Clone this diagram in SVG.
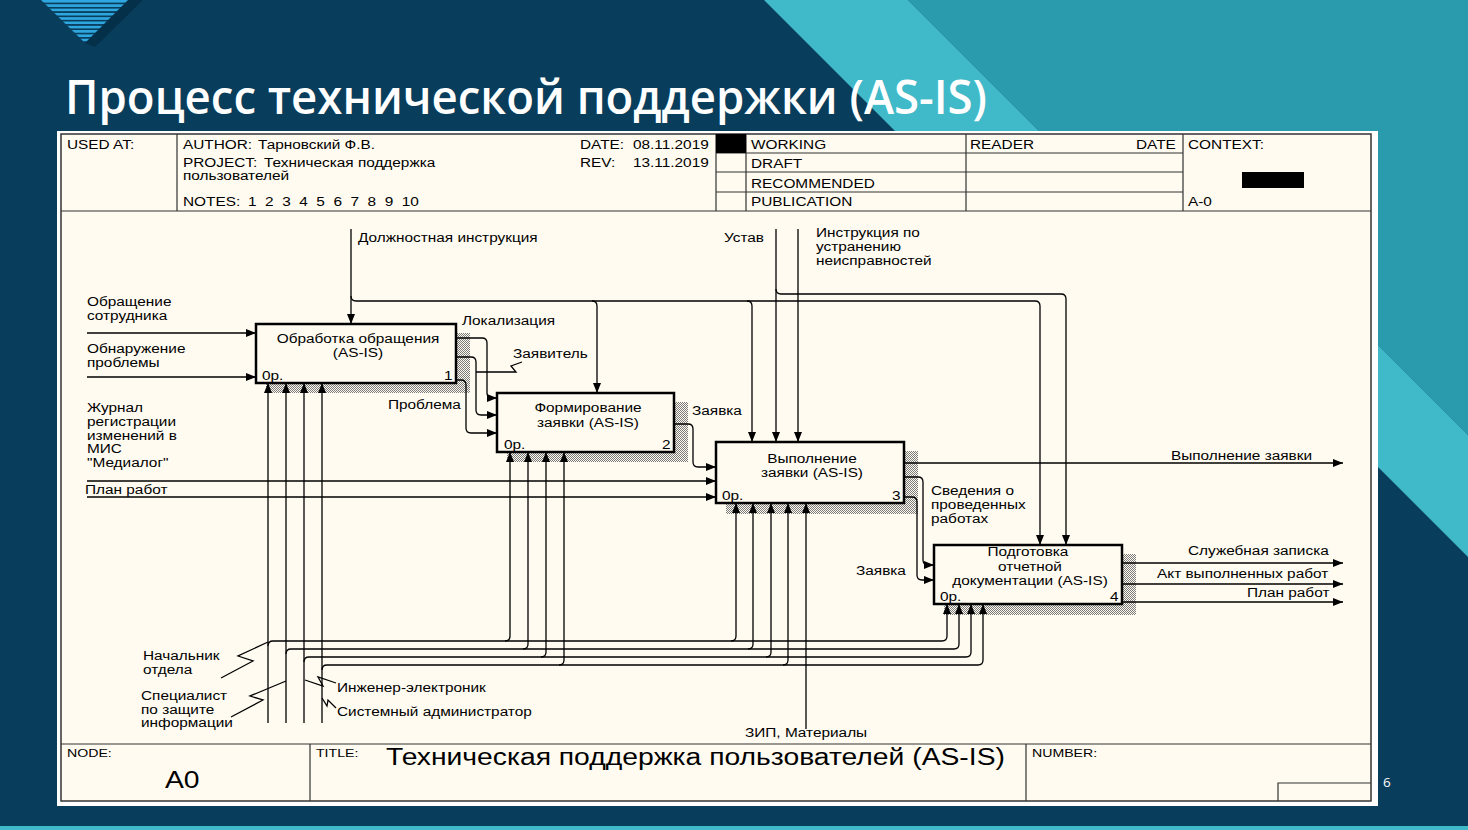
<svg xmlns="http://www.w3.org/2000/svg" width="1468" height="830" viewBox="0 0 1468 830">
  <style>
    .t { font-family: "Liberation Sans", Arial, sans-serif; font-size: 12.5px; fill: #000;
         transform-box: fill-box; transform-origin: left center; transform: scaleX(1.23); }
    .tm { text-anchor: middle; transform-origin: center center; }
    .sm { font-size: 11.5px; }
    .big { font-size: 23px; }
    .ln { fill: none; stroke: #000; stroke-width: 1.3; }
    .ar { marker-end: url(#ah); }
    .fr { fill: none; stroke: #333; stroke-width: 1.2; }
    .box { fill: #fffbf0; stroke: #000; stroke-width: 2.5; }
    .shd { fill: url(#hatch); }
  </style>
  <defs>
    <pattern id="stripes" width="8" height="4.3" patternUnits="userSpaceOnUse">
      <rect width="8" height="2.6" fill="#2ea6e0"/>
    </pattern>
    <pattern id="hatch" width="2" height="2" patternUnits="userSpaceOnUse">
      <rect width="2" height="2" fill="#fffbf0"/>
      <rect x="0" y="0" width="1" height="1" fill="#7a7a7a"/>
      <rect x="1" y="1" width="1" height="1" fill="#7a7a7a"/>
    </pattern>
    <marker id="ah" viewBox="0 0 10 8" refX="10" refY="4" markerWidth="10" markerHeight="8" markerUnits="userSpaceOnUse" orient="auto">
      <path d="M0,0 L10,4 L0,8 z" fill="#000"/>
    </marker>
  </defs>

  <!-- slide background -->
  <rect width="1468" height="830" fill="#083d5b"/>
  <polygon points="908,0 1468,0 1468,435 1378,345 1378,135 1043,135" fill="#2a9bac"/>
  <polygon points="764,0 908,0 1043,135 899,135" fill="#40b9c9"/>
  <polygon points="1378,345 1468,435 1468,557 1378,467" fill="#40b9c9"/>
  <rect x="0" y="826" width="1468" height="4" fill="#40b9c9"/>
  <polygon points="128,0 143,0 95,47 85,43" fill="#05304a"/>
  <polygon points="41,0 128,0 85,43" fill="url(#stripes)"/>

  <text x="65" y="114" font-family="'Open Sans', 'Liberation Sans', sans-serif" font-weight="600" font-size="47" fill="#fff" textLength="922" lengthAdjust="spacingAndGlyphs">Процесс технической поддержки (AS-IS)</text>
  <text x="1383" y="787" font-family="'Open Sans', 'Liberation Sans', sans-serif" font-size="13.5" fill="#fff">6</text>

  <!-- drawing sheet -->
  <g id="sheet">
    <rect x="57" y="131" width="1321" height="675" fill="#fff"/>
    <rect x="61" y="134" width="1310" height="667" fill="#fffbf0" stroke="#333" stroke-width="1.5"/>
    <path class="fr" d="M61,211 H1371 M61,744 H1371 M177,134 V211 M716,134 V211 M746,134 V211 M966,134 V211 M1183,134 V211 M716,153 H1183 M716,172 H1183 M716,192 H1183 M310,744 V801 M1026,744 V801 M1278,801 V783 H1371"/>
    <rect x="716" y="134" width="30" height="19" fill="#000"/>
    <rect x="1242" y="172" width="62" height="16" fill="#000"/>
  </g>

  <g id="header">
    <text class="t" x="67" y="149">USED AT:</text>
    <text class="t" x="183" y="149">AUTHOR:</text>
    <text class="t" x="258" y="149">Тарновский Ф.В.</text>
    <text class="t" x="183" y="167">PROJECT:</text>
    <text class="t" x="264" y="167">Техническая поддержка</text>
    <text class="t" x="183" y="180">пользователей</text>
    <text class="t" x="183" y="206">NOTES:</text>
    <text class="t" x="248" y="206" style="white-space:pre">1  2  3  4  5  6  7  8  9  10</text>
    <text class="t" x="580" y="149">DATE:</text>
    <text class="t" x="633" y="149">08.11.2019</text>
    <text class="t" x="580" y="167">REV:</text>
    <text class="t" x="633" y="167">13.11.2019</text>
    <text class="t" x="751" y="149">WORKING</text>
    <text class="t" x="751" y="168">DRAFT</text>
    <text class="t" x="751" y="188">RECOMMENDED</text>
    <text class="t" x="751" y="206">PUBLICATION</text>
    <text class="t" x="970" y="149">READER</text>
    <text class="t" x="1136" y="149">DATE</text>
    <text class="t" x="1188" y="149">CONTEXT:</text>
    <text class="t" x="1188" y="206">A-0</text>
  </g>

  <g id="footer">
    <text class="t sm" x="67" y="757">NODE:</text>
    <text class="t big" x="165" y="788">A0</text>
    <text class="t sm" x="316" y="757">TITLE:</text>
    <text class="t big" x="386" y="765">Техническая поддержка пользователей (AS-IS)</text>
    <text class="t sm" x="1032" y="757">NUMBER:</text>
  </g>

  <!-- activity boxes (drawn below the arrows that end on them) -->
  <g id="box1">
    <rect class="shd" x="266" y="333" width="204" height="60"/>
    <rect class="box" x="256" y="324" width="200" height="59"/>
    <text class="t tm" x="358" y="343">Обработка обращения</text>
    <text class="t tm" x="358" y="357">(AS-IS)</text>
    <text class="t" x="262" y="380">0р.</text>
    <text class="t" x="444" y="380">1</text>
  </g>
  <g id="box2">
    <rect class="shd" x="507" y="402" width="181" height="60"/>
    <rect class="box" x="497" y="393" width="177" height="59"/>
    <text class="t tm" x="588" y="412">Формирование</text>
    <text class="t tm" x="588" y="427">заявки (AS-IS)</text>
    <text class="t" x="504" y="449">0р.</text>
    <text class="t" x="662" y="449">2</text>
  </g>
  <g id="box3">
    <rect class="shd" x="726" y="451" width="192" height="63"/>
    <rect class="box" x="716" y="442" width="188" height="61"/>
    <text class="t tm" x="812" y="463">Выполнение</text>
    <text class="t tm" x="812" y="477">заявки (AS-IS)</text>
    <text class="t" x="722" y="500">0р.</text>
    <text class="t" x="892" y="500">3</text>
  </g>
  <g id="box4">
    <rect class="shd" x="944" y="554" width="192" height="61"/>
    <rect class="box" x="934" y="545" width="188" height="59"/>
    <text class="t tm" x="1028" y="556">Подготовка</text>
    <text class="t tm" x="1030" y="571">отчетной</text>
    <text class="t tm" x="1030" y="585">документации (AS-IS)</text>
    <text class="t" x="940" y="601">0р.</text>
    <text class="t" x="1110" y="601">4</text>
  </g>

  <!-- connectors -->
  <g id="connectors">
    <!-- controls -->
    <path class="ln ar" d="M351,229 V324"/>
    <path class="ln ar" d="M351,296 Q351,301 356,301 H1035 Q1040,301 1040,306 V545"/>
    <path class="ln ar" d="M592,301 Q597,301 597,306 V393"/>
    <path class="ln ar" d="M747,301 Q752,301 752,306 V442"/>
    <path class="ln ar" d="M776,229 V442"/>
    <path class="ln ar" d="M776,289 Q776,294 781,294 H1061 Q1066,294 1066,299 V545"/>
    <path class="ln ar" d="M798,229 V442"/>
    <!-- inputs -->
    <path class="ln ar" d="M87,333 H256"/>
    <path class="ln ar" d="M87,377 H256"/>
    <path class="ln ar" d="M87,481 H716"/>
    <path class="ln ar" d="M87,497 H716"/>
    <!-- box 1 -> box 2 -->
    <path class="ln ar" d="M456,338 H482 Q487,338 487,343 V393 Q487,398 492,398 H497"/>
    <path class="ln ar" d="M456,357 H471 Q476,357 476,362 V410 Q476,415 481,415 H497"/>
    <path class="ln ar" d="M456,380 H461 Q466,380 466,385 V428 Q466,433 471,433 H497"/>
    <path class="ln" d="M476,372 H516 L511,366 L522,362"/>
    <!-- box 2 -> box 3 -->
    <path class="ln ar" d="M674,424 H688 Q693,424 693,429 V462 Q693,467 698,467 H716"/>
    <!-- box 3 outputs -->
    <path class="ln ar" d="M904,463 H1343"/>
    <path class="ln ar" d="M904,477 H918 Q923,477 923,482 V560 Q923,565 928,565 H934"/>
    <path class="ln ar" d="M904,497 H912 Q917,497 917,502 V575 Q917,580 922,580 H934"/>
    <!-- box 4 outputs -->
    <path class="ln ar" d="M1122,563 H1343"/>
    <path class="ln ar" d="M1122,584 H1343"/>
    <path class="ln ar" d="M1122,602 H1343"/>
    <!-- mechanisms -->
    <path class="ln ar" d="M268,723 V383"/>
    <path class="ln ar" d="M268,646 Q268,641 273,641 H942 Q947,641 947,636 V604"/>
    <path class="ln ar" d="M505,641 Q510,641 510,636 V452"/>
    <path class="ln ar" d="M731,641 Q736,641 736,636 V503"/>
    <path class="ln ar" d="M286,723 V383"/>
    <path class="ln ar" d="M286,654 Q286,649 291,649 H954 Q959,649 959,644 V604"/>
    <path class="ln ar" d="M523,649 Q528,649 528,644 V452"/>
    <path class="ln ar" d="M748,649 Q753,649 753,644 V503"/>
    <path class="ln ar" d="M304,723 V383"/>
    <path class="ln ar" d="M304,662 Q304,657 309,657 H966 Q971,657 971,652 V604"/>
    <path class="ln ar" d="M541,657 Q546,657 546,652 V452"/>
    <path class="ln ar" d="M766,657 Q771,657 771,652 V503"/>
    <path class="ln ar" d="M322,723 V383"/>
    <path class="ln ar" d="M322,670 Q322,665 327,665 H978 Q983,665 983,660 V604"/>
    <path class="ln ar" d="M559,665 Q564,665 564,660 V452"/>
    <path class="ln ar" d="M783,665 Q788,665 788,660 V503"/>
    <path class="ln ar" d="M806,729 V503"/>
    <!-- label squiggles -->
    <path class="ln" d="M221,678 L253,661 L238,656 L268,642"/>
    <path class="ln" d="M231,717 L263,700 L250,696 L286,681"/>
    <path class="ln" d="M336,683 L318,677 L323,686 L305,680"/>
    <path class="ln" d="M336,708 L328,700 L327,706 L322,698"/>
  </g>

  <g id="labels">
    <text class="t" x="358" y="242">Должностная инструкция</text>
    <text class="t" x="724" y="242">Устав</text>
    <text class="t" x="816" y="237">Инструкция по</text>
    <text class="t" x="816" y="251">устранению</text>
    <text class="t" x="816" y="265">неисправностей</text>
    <text class="t" x="87" y="306">Обращение</text>
    <text class="t" x="87" y="320">сотрудника</text>
    <text class="t" x="87" y="353">Обнаружение</text>
    <text class="t" x="87" y="367">проблемы</text>
    <text class="t" x="87" y="412">Журнал</text>
    <text class="t" x="87" y="426">регистрации</text>
    <text class="t" x="87" y="440">изменений в</text>
    <text class="t" x="87" y="453">МИС</text>
    <text class="t" x="87" y="467">"Медиалог"</text>
    <text class="t" x="85" y="494">План работ</text>
    <text class="t" x="462" y="325">Локализация</text>
    <text class="t" x="513" y="358">Заявитель</text>
    <text class="t" x="388" y="409">Проблема</text>
    <text class="t" x="692" y="415">Заявка</text>
    <text class="t" x="1171" y="460">Выполнение заявки</text>
    <text class="t" x="931" y="495">Сведения о</text>
    <text class="t" x="931" y="509">проведенных</text>
    <text class="t" x="931" y="523">работах</text>
    <text class="t" x="856" y="575">Заявка</text>
    <text class="t" x="1188" y="555">Служебная записка</text>
    <text class="t" x="1157" y="578">Акт выполненных работ</text>
    <text class="t" x="1247" y="597">План работ</text>
    <text class="t" x="143" y="660">Начальник</text>
    <text class="t" x="143" y="674">отдела</text>
    <text class="t" x="141" y="700">Специалист</text>
    <text class="t" x="141" y="714">по защите</text>
    <text class="t" x="141" y="727">информации</text>
    <text class="t" x="337" y="692">Инженер-электроник</text>
    <text class="t" x="337" y="716">Системный администратор</text>
    <text class="t" x="745" y="737">ЗИП, Материалы</text>
  </g>
</svg>
